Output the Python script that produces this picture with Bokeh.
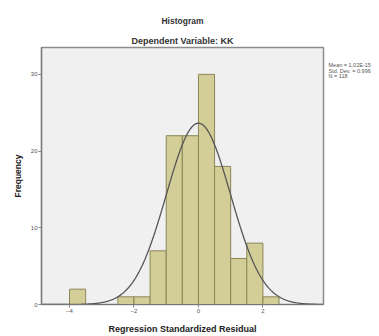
import numpy as np
from bokeh.plotting import figure
from bokeh.models import Range1d, Title, LinearAxis, FixedTicker
from bokeh.embed import file_html
from bokeh.resources import INLINE

# Data
bin_left = [-4.0, -2.5, -2.0, -1.5, -1.0, -0.5, 0.0, 0.5, 1.0, 1.5, 2.0]
counts = [2, 1, 1, 7, 22, 22, 30, 18, 6, 8, 1]
bin_width = 0.5
x_ticks = [-4, -2, 0, 2]
y_ticks = [0, 10, 20, 30]
fit_mean = 1.02e-15
fit_sd = 0.996
n_total = 118
stats_lines = ["Mean = 1.02E-15", "Std. Dev. = 0.996", "N = 118"]

X0, X1 = -4.87, 3.88
Y0, Y1 = 0.0, 33.5
W, H = 379, 336
BL, BR, BT, BB = 41, 56, 47, 30
FW, FH = W - BL - BR, H - BT - BB
FONT = "Liberation Sans"

p = figure(width=W, height=H, output_backend="svg", toolbar_location=None,
           x_range=Range1d(X0, X1), y_range=Range1d(Y0, Y1),
           min_border_left=BL, min_border_right=BR, min_border_top=BT, min_border_bottom=BB)
p.title = None
p.background_fill_color = "#F0F0F0"
p.border_fill_color = "white"
p.outline_line_color = "#8C8C8C"
p.outline_line_width = 1.5
p.xgrid.visible = False
p.ygrid.visible = False

lefts = np.array(bin_left)
p.quad(left=lefts, right=lefts + bin_width, bottom=0, top=counts,
       fill_color="#D3CE97", line_color="#8A8656", line_width=1)

xs = np.linspace(X0, X1, 400)
ys = n_total * bin_width / (fit_sd * np.sqrt(2 * np.pi)) * np.exp(-0.5 * ((xs - fit_mean) / fit_sd) ** 2)
p.line(xs, ys, line_color="#555555", line_width=1.3)

for ax in (p.xaxis[0], p.yaxis[0]):
    ax.axis_line_color = "#777777"
    ax.axis_line_width = 1.2
    ax.major_tick_line_color = "#888888"
    ax.major_tick_out = 3
    ax.major_tick_in = 0
    ax.minor_tick_line_color = None
    ax.major_label_text_font_size = "6px"
    ax.major_label_text_color = "#555555"
    ax.major_label_text_font = FONT
    ax.major_label_standoff = 1
    ax.axis_label_text_font = FONT
    ax.axis_label_text_font_style = "bold"
    ax.axis_label_text_color = "#222222"
p.xaxis.ticker = x_ticks
p.yaxis.ticker = y_ticks
p.xaxis.axis_label = "Regression Standardized Residual"
p.xaxis.axis_label_text_font_size = "9px"
p.xaxis.axis_label_standoff = 8
p.yaxis.axis_label = "Frequency"
p.yaxis.axis_label_text_font_size = "8.5px"
p.yaxis.axis_label_standoff = 5

# stats block on the right, drawn as an unlined axis
px_per_unit = FH / (Y1 - Y0)
stat_ticks = [round(Y1 - (65 + 5.5 * i - BT) / px_per_unit, 3) for i in range(len(stats_lines))]
stats_axis = LinearAxis(ticker=FixedTicker(ticks=stat_ticks),
                        major_label_overrides={t: s for t, s in zip(stat_ticks, stats_lines)})
stats_axis.axis_line_color = None
stats_axis.major_tick_line_color = None
stats_axis.minor_tick_line_color = None
stats_axis.major_tick_out = 0
stats_axis.major_tick_in = 0
stats_axis.major_label_standoff = 5
stats_axis.major_label_text_font = FONT
stats_axis.major_label_text_font_size = "5.5px"
stats_axis.major_label_text_color = "#555555"
p.add_layout(stats_axis, "right")

p.add_layout(Title(text="Dependent Variable: KK", align="center", offset=35,
                   text_font=FONT, text_font_style="bold", text_font_size="9px",
                   text_color="#333333", standoff=3), "above")
p.add_layout(Title(text="Histogram", align="center", offset=35,
                   text_font=FONT, text_font_style="bold", text_font_size="8.5px",
                   text_color="#333333", standoff=13), "above")

open("out.html", "w").write(file_html(p, INLINE))
